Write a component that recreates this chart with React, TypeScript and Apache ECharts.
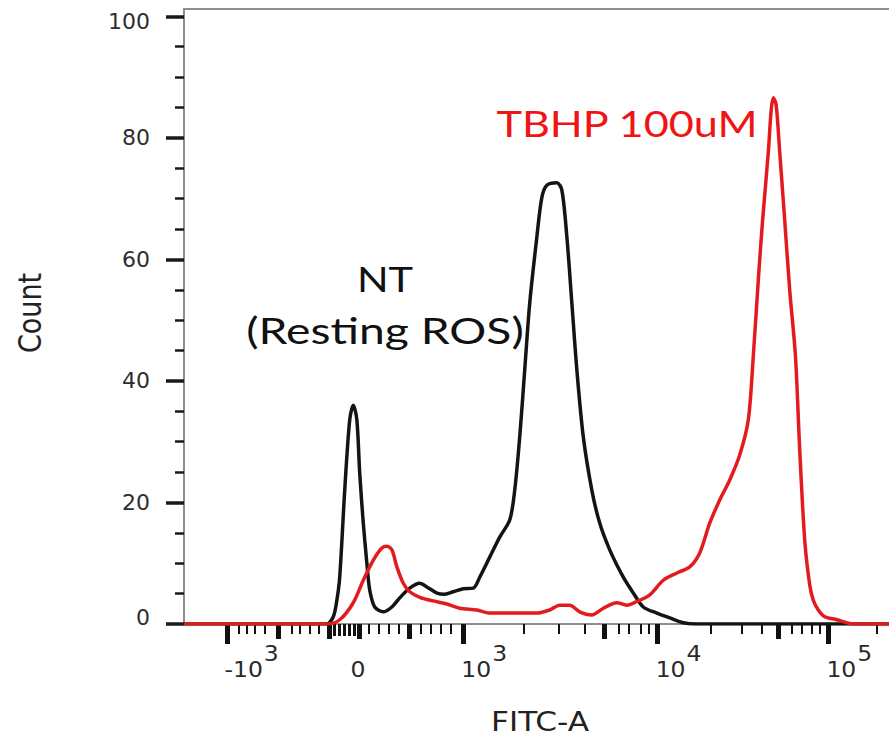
import React, { useEffect, useRef } from "react";
import * as echarts from "echarts";

// FITC-A is shown on a biexponential display scale; x values are display channels (0–1000).
const ntX = [0, 190, 200, 209, 214, 218, 225, 232, 237, 242, 246, 251, 256, 260, 267, 279, 291, 302, 316, 330, 340, 354, 365, 377, 391, 405, 414, 428, 442, 456, 463, 470, 477, 484, 494, 501, 508, 522, 529, 536, 543, 550, 559, 571, 582, 596, 615, 629, 643, 662, 680, 699, 718, 1000];
const ntY = [0, 0, 0, 1.2, 3.9, 7.7, 22.0, 33.6, 36.0, 33.6, 24.8, 16.6, 10.0, 5.6, 2.8, 2.0, 2.8, 4.3, 5.9, 6.7, 6.1, 5.1, 4.9, 5.3, 5.8, 5.9, 7.7, 11.0, 14.3, 17.1, 22.0, 30.8, 41.8, 52.8, 63.7, 70.2, 72.2, 72.6, 71.4, 63.7, 52.8, 41.8, 30.8, 22.0, 16.6, 12.2, 7.7, 5.1, 2.8, 1.8, 1.0, 0.2, 0, 0];

const tbhpX = [0, 200, 218, 237, 251, 265, 277, 284, 291, 298, 307, 316, 330, 349, 368, 386, 410, 428, 447, 494, 512, 526, 540, 554, 571, 587, 606, 620, 634, 652, 671, 690, 708, 722, 736, 750, 764, 778, 790, 797, 804, 810, 818, 822, 825, 829, 834, 841, 848, 856, 862, 869, 876, 881, 888, 897, 914, 928, 937, 1000];
const tbhpY = [0, 0, 0.7, 3.5, 7.2, 10.5, 12.5, 12.8, 12.2, 9.4, 6.7, 5.3, 4.4, 3.8, 3.3, 2.6, 2.3, 1.8, 1.8, 1.8, 2.3, 3.1, 3.1, 2.0, 1.5, 2.6, 3.5, 3.1, 3.7, 4.8, 7.2, 8.4, 9.4, 11.7, 16.6, 20.4, 23.7, 27.8, 33.6, 44.1, 56.6, 66.4, 77.6, 84.5, 86.6, 85.4, 77.6, 66.4, 54.9, 44.1, 28.6, 13.8, 6.4, 3.9, 2.3, 1.2, 0.7, 0.2, 0, 0];

// tick positions (display channels)
const xMajorTicks = [60, 391, 663, 902];
const xMidTicks = [132, 204, 245, 316, 589, 832];
const xDenseTicks = [211, 218, 225, 232, 239];
const xMinorTicks = [76, 88, 99, 113, 151, 162, 176, 188, 259, 273, 287, 301, 332, 346, 360, 374, 475, 525, 561, 608, 622, 640, 651, 738, 781, 809, 851, 865, 879, 890, 970];
const xTickLabels = [
  { at: 60, base: "-10", exp: "3" },
  { at: 245, base: "0", exp: "" },
  { at: 391, base: "10", exp: "3" },
  { at: 663, base: "10", exp: "4" },
  { at: 902, base: "10", exp: "5" },
];
const yMajorValues = [0, 20, 40, 60, 80, 100];
const yMinorValues = [5, 10, 15, 25, 30, 35, 45, 50, 55, 65, 70, 75, 85, 90, 95];

const seriesNames = ["NT", "TBHP 100uM"];
const ntNote = "(Resting ROS)";
const xTitle = "FITC-A";
const yTitle = "Count";

const AXIS_FONT = '"DejaVu Sans", Verdana, sans-serif';
const NOTE_FONT = 'Lato, "Open Sans", sans-serif';

export default function App() {
  const ref = useRef<HTMLDivElement>(null);
  useEffect(() => {
    if (!ref.current) return;
    const chart = echarts.init(ref.current, null, { renderer: "svg" });

    const xBase = (ticks: number[], len: number, w: number) => ({
      type: "value",
      min: 0,
      max: 1000,
      position: "bottom",
      axisLine: { show: false, onZero: false },
      splitLine: { show: false },
      axisLabel: { show: false },
      axisTick: { show: true, customValues: ticks, length: len, lineStyle: { width: w, color: "#111" } },
    });
    const yBase = {
      type: "value",
      min: 0,
      max: 101.2,
      position: "left",
      axisLine: { show: false, onZero: false },
      splitLine: { show: false },
    };
    const lblStyle = { fontFamily: AXIS_FONT, fontSize: 22, color: "#2e2e2e" };

    chart.setOption({
      animation: false,
      backgroundColor: "#fff",
      grid: {
        left: 184,
        top: 9,
        width: 714.3,
        height: 615,
        show: true,
        borderColor: "#8f8f8f",
        borderWidth: 2,
        outerBoundsMode: "none",
        containLabel: false,
      },
      xAxis: [
        xBase(xMajorTicks, 20, 5),
        xBase(xMidTicks, 15, 5),
        xBase(xDenseTicks, 12, 3),
        xBase(xMinorTicks, 10, 2),
      ],
      yAxis: [
        {
          ...yBase,
          axisTick: { show: true, customValues: yMajorValues, length: 18, lineStyle: { width: 3.5, color: "#1a1a1a" } },
          axisLabel: {
            customValues: yMajorValues,
            margin: 34,
            ...lblStyle,
            formatter: (v: number) => (v === 0 ? "{lo|0}" : v === 100 ? "{hi|100}" : String(v)),
            rich: {
              lo: { ...lblStyle, padding: [0, 0, 14, 0] },
              hi: { ...lblStyle, padding: [10, 0, 0, 0] },
            },
          },
        },
        {
          ...yBase,
          axisTick: { show: true, customValues: yMinorValues, length: 9, lineStyle: { width: 2.5, color: "#1a1a1a" } },
          axisLabel: { show: false },
        },
      ],
      series: [
        {
          name: seriesNames[0],
          type: "line",
          data: ntX.map((x, i) => [x, ntY[i]]),
          showSymbol: false,
          smooth: 0.3,
          lineStyle: { color: "#141414", width: 3.5 },
          z: 3,
        },
        {
          name: seriesNames[1],
          type: "line",
          data: tbhpX.map((x, i) => [x, tbhpY[i]]),
          showSymbol: false,
          smooth: 0.3,
          lineStyle: { color: "#e31b1f", width: 3.5 },
          z: 4,
        },
      ],
    });

    const els: any[] = [];
    xTickLabels.forEach((l) => {
      const px = chart.convertToPixel({ xAxisIndex: 0 }, l.at) as number;
      if (l.exp) {
        const j = px + (l.base.startsWith("-") ? 36 : 28);
        els.push({
          type: "text",
          x: j,
          y: 669.5,
          scaleX: 1.12,
          style: { text: l.base, align: "right", verticalAlign: "middle", fontFamily: AXIS_FONT, fontSize: 21, fill: "#2a2a2a" },
        });
        els.push({
          type: "text",
          x: j + 1,
          y: 653,
          scaleX: 1.12,
          style: { text: l.exp, align: "left", verticalAlign: "middle", fontFamily: AXIS_FONT, fontSize: 21, fill: "#2a2a2a" },
        });
      } else {
        els.push({
          type: "text",
          x: px - 1,
          y: 669.5,
          scaleX: 1.12,
          style: { text: l.base, align: "center", verticalAlign: "middle", fontFamily: AXIS_FONT, fontSize: 21, fill: "#2a2a2a" },
        });
      }
    });
    els.push({
      type: "text",
      x: 540,
      y: 722,
      scaleX: 1.2,
      style: { text: xTitle, align: "center", verticalAlign: "middle", fontFamily: AXIS_FONT, fontSize: 26, fill: "#222" },
    });
    els.push({
      type: "text",
      x: 29.5,
      y: 313,
      rotation: Math.PI / 2,
      scaleY: 1.2,
      style: { text: yTitle, align: "center", verticalAlign: "middle", fontFamily: AXIS_FONT, fontSize: 27, fill: "#222" },
    });
    els.push({
      type: "text",
      x: 627,
      y: 122.7,
      scaleX: 1.2,
      style: { text: seriesNames[1], align: "center", verticalAlign: "middle", fontFamily: NOTE_FONT, fontSize: 36, fill: "#f01414" },
    });
    els.push({
      type: "text",
      x: 385,
      y: 279,
      scaleX: 1.22,
      style: { text: seriesNames[0], align: "center", verticalAlign: "middle", fontFamily: NOTE_FONT, fontSize: 34, fill: "#111" },
    });
    els.push({
      type: "text",
      x: 385,
      y: 329.5,
      scaleX: 1.25,
      style: { text: ntNote, align: "center", verticalAlign: "middle", fontFamily: NOTE_FONT, fontSize: 37, fill: "#111" },
    });
    chart.setOption({ graphic: els });

    return () => chart.dispose();
  }, []);
  return (
    <div
      ref={ref}
      style={{ position: "fixed", left: 0, top: 0, width: 889, height: 742, background: "#fff" }}
    />
  );
}
